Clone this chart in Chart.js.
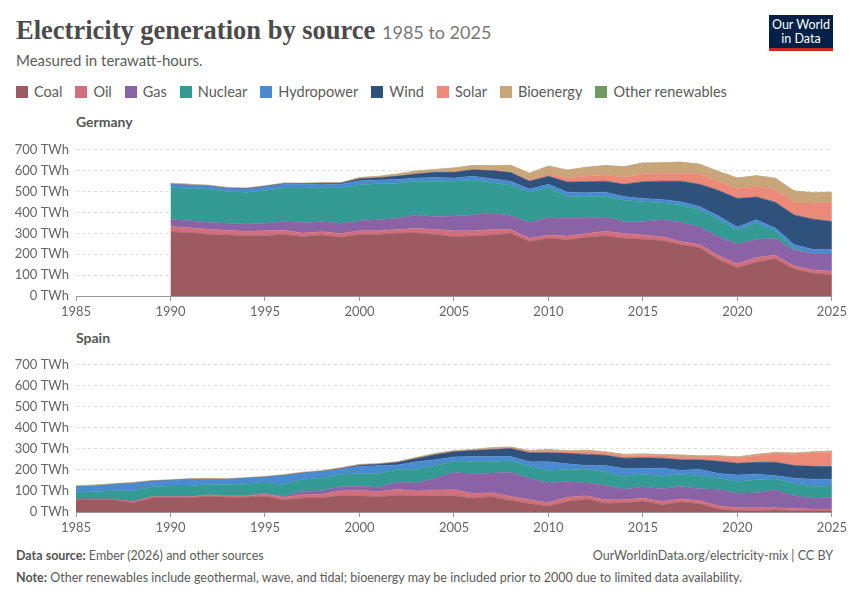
<!DOCTYPE html>
<html lang="en">
<head>
<meta charset="UTF-8">
<title>Electricity generation by source</title>
<script src="https://cdn.jsdelivr.net/npm/chart.js"></script>
<style>
    body {
        margin: 0;
        width: 850px;
        height: 600px;
        background: #fff;
        font-family: Lato, "Noto Sans", sans-serif;
        color: #5b5b5b;
        position: relative;
        overflow: hidden;
    }
    .title {
        position: absolute;
        left: 16px;
        top: 15px;
        font-family: "Liberation Serif", "DejaVu Serif", serif;
        font-size: 26.5px;
        font-weight: bold;
        color: #4b4b4b;
        white-space: nowrap;
    }
    .title span {
        font-family: Lato, sans-serif;
        font-weight: normal;
        font-size: 18px;
        color: #777;
    }
    .subtitle {
        position: absolute;
        left: 16px;
        top: 51px;
        font-size: 15px;
        color: #5b5b5b;
    }
    .logo {
        position: absolute;
        left: 769px;
        top: 15px;
        width: 64px;
        height: 30px;
        padding-top: 3px;
        background: #002147;
        border-bottom: 3px solid #ce261e;
        color: #fff;
        font-size: 12.5px;
        line-height: 14px;
        text-align: center;
    }
    .legend {
        position: absolute;
        left: 16px;
        top: 83px;
        display: flex;
        font-size: 14.5px;
        color: #5b5b5b;
    }
    .legend div {
        display: flex;
        align-items: center;
        margin-right: 13px;
    }
    .legend i {
        display: inline-block;
        width: 12px;
        height: 12px;
        margin-right: 6px;
    }
    .panel-title {
        position: absolute;
        left: 76px;
        font-size: 14px;
        font-weight: bold;
        color: #555;
    }
    .chart-box {
        position: absolute;
        left: 0;
        width: 850px;
    }
    .footer {
        position: absolute;
        left: 16px;
        font-size: 12.5px;
        color: #5b5b5b;
    }
    .footer b { color: #555; }
    .footer-right {
        position: absolute;
        right: 17px;
        top: 548px;
        font-size: 12.5px;
        color: #5b5b5b;
    }
</style>
</head>
<body>

<div class="title">Electricity generation by source <span>1985 to 2025</span></div>
<div class="subtitle">Measured in terawatt-hours.</div>
<div class="logo">Our World<br>in Data</div>
<div class="legend" id="legend"></div>

<div class="panel-title" style="top:113px;">Germany</div>
<div class="chart-box" style="top:135px; height:189px;"><canvas id="germany"></canvas></div>

<div class="panel-title" style="top:329px;">Spain</div>
<div class="chart-box" style="top:350px; height:190px;"><canvas id="spain"></canvas></div>

<div class="footer" style="top:548px;"><b>Data source:</b> Ember (2026) and other sources</div>
<div class="footer-right">OurWorldinData.org/electricity-mix | CC BY</div>
<div class="footer" style="top:570px;"><b>Note:</b> Other renewables include geothermal, wave, and tidal; bioenergy may be included prior to 2000 due to limited data availability.</div>

<script>
// sources, bottom to top of the stack
const sources = ["Coal", "Oil", "Gas", "Nuclear", "Hydropower", "Wind", "Solar", "Bioenergy", "Other renewables"];
const colors = ["#9d5a60", "#d0707f", "#8a63a7", "#339b93", "#4a8ad0", "#2f527c", "#ec8a7a", "#c9a57a", "#6f9a62"];

const yTicks = [0, 100, 200, 300, 400, 500, 600, 700];
const xTicks = [1985, 1990, 1995, 2000, 2005, 2010, 2015, 2020, 2025];

// Germany, 1990-2025 (TWh)
const deYears = [];
for (let y = 1990; y <= 2025; y++) deYears.push(y);
const deCoal    = [307,304,295,292,289,289,295,284,292,281,295,295,300,302,295,284,287,292,300,261,277,269,281,289,277,272,266,246,231,175,135,163,178,129,109,102];
const deOil     = [26,23,24,23,21,23,20,18,16,18,17,18,18,22,23,28,25,26,18,16,15,18,18,21,22,20,18,15,15,18,20,21,18,15,16,18];
const deGas     = [33,33,34,33,35,36,42,49,49,49,48,52,54,64,63,71,76,79,68,76,83,84,73,68,58,65,81,92,84,91,94,88,80,76,79,81];
const deNuclear = [154,155,159,152,152,157,160,166,161,169,173,173,168,162,169,166,168,146,144,144,145,106,105,99,102,94,82,83,83,84,66,78,35,7,0,0];
const deHydro   = [15,15,15,15,15,18,18,18,18,18,19,18,18,15,17,16,17,18,20,15,15,20,17,20,18,16,15,15,16,15,15,15,15,19,19,22];
const deWind    = [0,0,0,1,1,2,2,3,4,5,9,10,16,19,25,27,31,40,41,38,38,49,53,53,58,80,88,99,106,122,137,109,123,142,145,134];
const deSolar   = [0,0,0,0,0,0,0,0,0,0,0,0,0,0,1,1,2,3,4,5,12,19,26,29,33,38,38,38,50,45,48,50,60,61,76,91];
const deBio     = [5,5,3,4,4,2,4,2,2,2,6,7,10,14,13,20,19,20,31,33,37,38,43,46,51,52,50,53,46,46,50,52,55,54,50,49];
const deOther   = [0,0,0,0,0,0,0,0,0,0,0,0,0,0,0,0,0,0,0,0,0,0,0,0,0,0,0,0,0,0,0,0,0,0,0,0];

// Spain, 1985-2025 (TWh)
const esYears = [];
for (let y = 1985; y <= 2025; y++) esYears.push(y);
const esCoal    = [58,58,58,44,67,67,67,75,70,70,75,58,67,67,78,77,73,80,76,77,77,65,73,55,39,27,50,62,42,43,52,35,47,39,14,5,6,9,6,5,5];
const esOil     = [4,4,3,6,5,6,6,6,6,6,10,12,15,18,23,26,24,28,24,28,29,24,19,19,19,18,20,15,16,15,15,15,15,16,15,15,14,11,11,9,9];
const esGas     = [0,0,0,0,0,1,1,1,1,1,3,5,16,16,19,20,21,33,38,56,82,94,94,114,103,93,75,61,69,50,53,60,61,56,79,69,72,85,60,51,56];
const esNuclear = [31,36,40,51,48,50,50,50,52,55,51,56,56,61,60,60,64,62,64,59,54,56,53,57,56,60,57,65,64,61,60,59,57,60,53,56,61,52,58,58,54];
const esHydro   = [27,25,30,35,26,26,31,23,26,28,26,43,30,30,23,34,38,21,37,28,20,25,25,19,22,41,27,18,30,38,27,40,18,32,22,31,27,16,26,33,32];
const esWind    = [0,0,0,0,0,0,0,0,0,0,0,0,1,1,3,5,7,11,15,24,24,28,33,38,43,43,50,53,49,49,51,47,50,45,58,56,56,64,60,61,60];
const esSolar   = [0,0,0,0,0,0,0,0,0,0,0,0,0,0,0,0,0,0,0,0,0,0,1,3,7,7,7,12,12,12,12,12,14,12,21,24,31,40,53,65,68];
const esBio     = [5,5,3,4,3,3,3,5,3,3,4,3,4,3,4,4,3,4,5,6,6,5,8,4,3,8,5,8,4,6,6,5,9,7,5,6,7,6,6,4,6];
const esOther   = [0,0,0,0,0,0,0,0,0,0,0,0,0,0,0,0,0,0,0,0,0,0,0,0,0,0,0,0,0,0,0,0,0,0,0,0,0,0,0,0,0];

const deSeries = [deCoal, deOil, deGas, deNuclear, deHydro, deWind, deSolar, deBio, deOther];
const esSeries = [esCoal, esOil, esGas, esNuclear, esHydro, esWind, esSolar, esBio, esOther];

// legend
const legend = document.getElementById("legend");
sources.forEach((s, i) => {
    const d = document.createElement("div");
    d.innerHTML = '<i style="background:' + colors[i] + '"></i>' + s;
    legend.appendChild(d);
});

function makeChart(id, years, series) {
    const datasets = series.map((vals, i) => ({
        label: sources[i],
        data: vals.map((v, j) => ({ x: years[j], y: v })),
        backgroundColor: colors[i],
        borderColor: colors[i],
        borderWidth: 0.5,
        pointRadius: 0,
        tension: 0,
        fill: i === 0 ? "origin" : "-1"
    }));

    return new Chart(document.getElementById(id), {
        type: "line",
        data: { datasets: datasets },
        options: {
            responsive: true,
            maintainAspectRatio: false,
            animation: false,
            layout: { padding: { top: 8, right: 17, left: 0, bottom: 0 } },
            plugins: { legend: { display: false }, tooltip: { enabled: false } },
            scales: {
                x: {
                    type: "linear",
                    min: 1985,
                    max: 2025,
                    afterBuildTicks: axis => { axis.ticks = xTicks.map(v => ({ value: v })); },
                    afterFit: axis => { axis.height = 28; },
                    grid: { drawOnChartArea: false, drawTicks: true, tickLength: 5, color: "#999" },
                    border: { display: true, color: "#999" },
                    ticks: {
                        color: "#666",
                        font: { family: "Lato", size: 13 },
                        padding: 3,
                        maxRotation: 0,
                        callback: v => String(v)
                    }
                },
                y: {
                    stacked: true,
                    min: 0,
                    max: 700,
                    afterBuildTicks: axis => { axis.ticks = yTicks.map(v => ({ value: v })); },
                    afterFit: axis => { axis.width = 76; },
                    grid: { color: "#dddddd", drawTicks: false },
                    border: { display: false, dash: [3, 3] },
                    ticks: {
                        color: "#666",
                        font: { family: "Lato", size: 13 },
                        padding: 7,
                        callback: v => v + " TWh"
                    }
                }
            }
        }
    });
}

makeChart("germany", deYears, deSeries);
makeChart("spain", esYears, esSeries);
</script>
</body>
</html>
